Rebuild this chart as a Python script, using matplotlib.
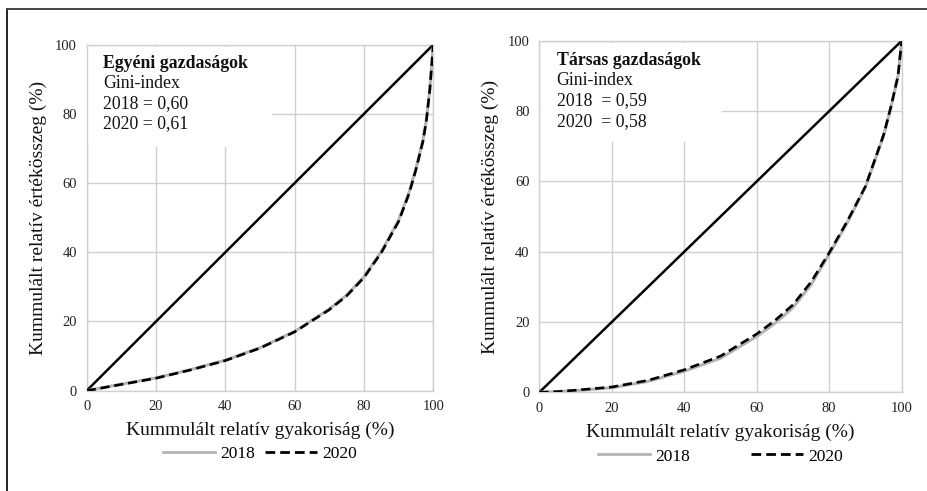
import matplotlib
matplotlib.use("Agg")
import matplotlib.pyplot as plt
from matplotlib.lines import Line2D
from matplotlib.patches import Rectangle

plt.rcParams["font.family"] = ["Liberation Serif", "DejaVu Serif"]

# Egyéni gazdaságok (individual farms)
egyeni_x = [0, 10, 20, 30, 40, 50, 60, 70, 75, 80, 85, 90, 93, 95, 97, 98, 99, 100]
egyeni_2018 = [0, 1.9, 3.7, 6.1, 8.8, 12.4, 17.1, 23.6, 27.6, 32.9, 40.2, 49.3, 57.3, 64.2, 72.3, 78.2, 87.2, 100]
egyeni_2020 = [0, 1.8, 3.6, 6.0, 8.7, 12.3, 17.0, 23.4, 27.4, 32.7, 39.9, 48.9, 56.9, 63.9, 72.0, 78.0, 87.0, 100]

# Társas gazdaságok (corporate farms)
tarsas_x = [0, 5, 10, 20, 30, 40, 50, 60, 65, 70, 75, 80, 85, 90, 95, 97, 99, 100]
tarsas_2018 = [0, 0.2, 0.5, 1.3, 3.1, 6.0, 9.7, 15.9, 19.6, 24.1, 30.6, 39.3, 48.3, 58.4, 73.0, 81.0, 90.0, 100]
tarsas_2020 = [0, 0.2, 0.6, 1.5, 3.4, 6.4, 10.3, 16.6, 20.4, 24.9, 31.4, 39.7, 48.7, 58.6, 73.2, 81.1, 90.1, 100]

panels = [
    {
        "pos": [0.0935, 0.2043, 0.3739, 0.7047],
        "x": egyeni_x, "y2018": egyeni_2018, "y2020": egyeni_2020,
        "lines": ["Egyéni gazdaságok", "Gini-index", "2018 = 0,60", "2020 = 0,61"],
        "box": (0.535, 0.704), "colspace": 0.6,
    },
    {
        "pos": [0.5818, 0.2010, 0.3909, 0.7159],
        "x": tarsas_x, "y2018": tarsas_2018, "y2020": tarsas_2020,
        "lines": ["Társas gazdaságok", "Gini-index", "2018  = 0,59", "2020  = 0,58"],
        "box": (0.504, 0.713), "colspace": 3.5,
    },
]

grid_col = "#d0d0d0"
fig = plt.figure(figsize=(9.27, 4.91), dpi=100)

for p in panels:
    ax = fig.add_axes(p["pos"])
    ax.set_xlim(0, 100)
    ax.set_ylim(0, 100)
    ticks = [0, 20, 40, 60, 80, 100]
    ax.set_xticks(ticks)
    ax.set_yticks(ticks)
    ax.tick_params(length=0, labelsize=10.5, pad=7, colors="#222222")
    ax.grid(True, color=grid_col, lw=1.0, zorder=0)
    ax.set_axisbelow(True)
    for s in ax.spines.values():
        s.set_color(grid_col)
        s.set_linewidth(1.0)

    # white background of the annotation block hides the grid there
    bx, by = p["box"]
    ax.add_patch(Rectangle((0.004, by), bx - 0.004, 0.994 - by, transform=ax.transAxes,
                           facecolor="white", edgecolor="none", zorder=1))

    ax.plot([0, 100], [0, 100], color="black", lw=1.8, zorder=3)
    ax.plot(p["x"], p["y2018"], color="#b4b4b4", lw=2.2, zorder=3)
    ax.plot(p["x"], p["y2020"], color="black", lw=1.9, ls=(0, (3.5, 1.8)), zorder=4)

    ty = 0.945
    for i, line in enumerate(p["lines"]):
        ax.text(0.048, ty - i * 0.058, line, transform=ax.transAxes, fontsize=12.8,
                fontweight="bold" if i == 0 else "normal", va="center", ha="left",
                color="#111111", zorder=5)

    ax.set_xlabel("Kummulált relatív gyakoriság (%)", fontsize=14, labelpad=6, color="#111111")
    ax.set_ylabel("Kummulált relatív értékösszeg (%)", fontsize=14, labelpad=6, color="#111111")

    handles = [
        Line2D([], [], color="#b4b4b4", lw=2.0),
        Line2D([], [], color="black", lw=2.0, ls=(0, (3.5, 1.8))),
    ]
    ax.legend(handles, ["2018", "2020"], loc="upper center", bbox_to_anchor=(0.5, -0.115),
              ncol=2, frameon=False, fontsize=12.5, handlelength=3.0, handletextpad=0.3,
              columnspacing=p["colspace"])

# partial frame around the figure (left and top edges)
fig.add_artist(Line2D([7.5 / 927, 7.5 / 927], [0, 1 - 9 / 491], color="#222222", lw=1.4))
fig.add_artist(Line2D([7.5 / 927, 1], [1 - 9 / 491, 1 - 9 / 491], color="#444444", lw=1.4))

fig.savefig("out.png", dpi=100)
